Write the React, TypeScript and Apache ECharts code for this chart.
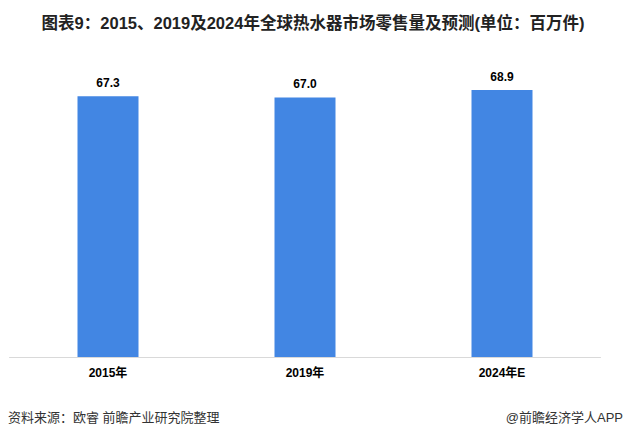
import React, { useEffect, useRef } from "react";
import * as echarts from "echarts";

const categories = ["2015年", "2019年", "2024年E"];
const values = [67.3, 67.0, 68.9];
const titleText = "图表9：2015、2019及2024年全球热水器市场零售量及预测(单位：百万件)";
const sourceText = "资料来源：欧睿 前瞻产业研究院整理";
const brandText = "@前瞻经济学人APP";

export default function App() {
  const ref = useRef<HTMLDivElement>(null);
  useEffect(() => {
    if (!ref.current) return;
    const chart = echarts.init(ref.current, null, { renderer: "svg" });
    const font = "Arial, 'Liberation Sans', 'Noto Sans CJK SC', sans-serif";
    chart.setOption({
      animation: false,
      backgroundColor: "#ffffff",
      title: {
        text: titleText,
        left: "center",
        top: 10,
        textStyle: { fontSize: 16.5, fontWeight: "bold", color: "#222", fontFamily: font },
      },
      grid: { left: 9.5, right: 25.5, top: 47, bottom: 83, containLabel: false },
      xAxis: {
        type: "category",
        data: categories,
        axisLine: { show: true, lineStyle: { color: "#d9d9d9", width: 1 } },
        axisTick: { show: false },
        axisLabel: { color: "#000", fontSize: 12, fontWeight: "bold", margin: 10, fontFamily: font },
      },
      yAxis: {
        type: "value",
        min: 0,
        max: 80,
        show: false,
        splitLine: { show: false },
      },
      series: [
        {
          type: "bar",
          data: values,
          barWidth: 61,
          itemStyle: { color: "#4286E3" },
          label: {
            show: true,
            position: "top",
            distance: 7,
            formatter: (p: any) => p.value.toFixed(1),
            color: "#000",
            fontSize: 12,
            fontWeight: "bold",
            fontFamily: font,
          },
        },
      ],
      graphic: [
        {
          type: "text",
          left: 8,
          top: 411,
          style: { text: sourceText, fontSize: 13, fill: "#333", fontFamily: font },
        },
        {
          type: "text",
          right: 3,
          top: 411,
          style: { text: brandText, fontSize: 13, fill: "#333", fontFamily: font },
        },
      ],
    });
    return () => chart.dispose();
  }, []);
  return <div ref={ref} style={{ width: 626, height: 440, position: "absolute", left: 0, top: 0 }} />;
}
